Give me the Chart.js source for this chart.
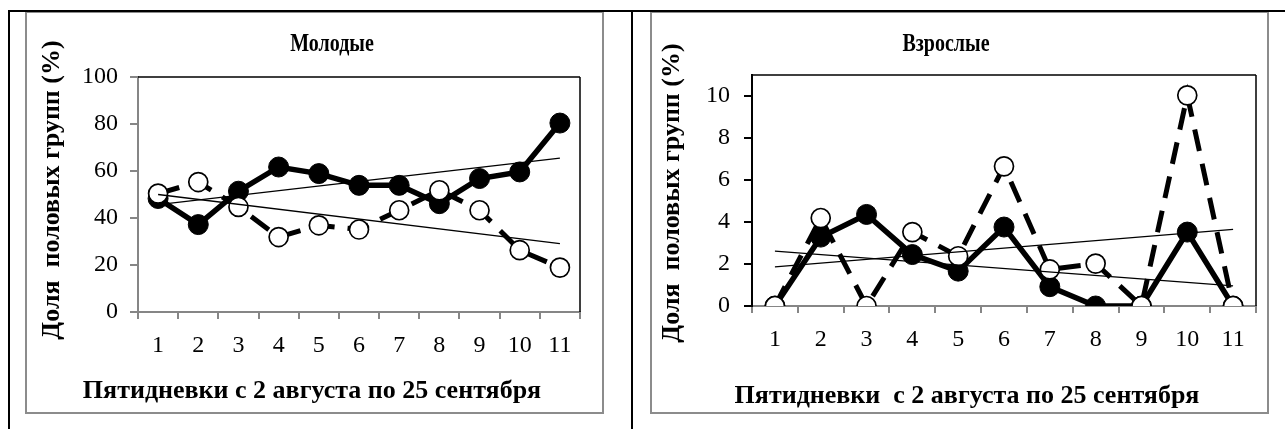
<!DOCTYPE html>
<html><head><meta charset="utf-8">
<script src="https://cdn.jsdelivr.net/npm/chart.js@4.4.1/dist/chart.umd.min.js"></script>
<style>
html,body{margin:0;padding:0;background:#fff;width:1285px;height:429px;overflow:hidden;position:relative}
.bl{position:absolute;background:#000}
.frame{position:absolute;border:2px solid #8c8c8c;box-sizing:border-box}
.holder{position:absolute;top:0}
canvas{display:block}
</style></head><body>
<div class="frame" style="left:25px;top:11px;width:579px;height:403px"></div>
<div class="frame" style="left:650px;top:11px;width:619px;height:403px"></div>
<div class="bl" style="left:8px;top:10px;width:1277px;height:2px"></div>
<div class="bl" style="left:8px;top:10px;width:2px;height:419px"></div>
<div class="bl" style="left:631px;top:10px;width:2px;height:419px"></div>
<div class="holder" style="left:0;width:640px;height:429px"><canvas id="c1" width="640" height="429"></canvas></div>
<div class="holder" style="left:640px;width:645px;height:429px"><canvas id="c2" width="645" height="429"></canvas></div>
<script>
// ---- data ----
const periods = ['1','2','3','4','5','6','7','8','9','10','11'];
const youngFilled = [48.3, 37.2, 51.4, 61.7, 58.9, 53.9, 53.9, 46.1, 56.8, 59.6, 80.4];
const youngOpen   = [50.4, 55.3, 44.7, 31.9, 36.9, 35.1, 43.3, 51.8, 43.3, 26.3, 18.9];
const youngFilledTrend = [45.7, 65.5]; // trend line values at periods 1 and 11
const youngOpenTrend   = [50.0, 29.1];
const adultFilled = [0, 3.28, 4.36, 2.45, 1.66, 3.76, 0.92, 0, 0, 3.52, 0];
const adultOpen   = [0, 4.19, 0, 3.52, 2.37, 6.65, 1.74, 2.02, 0, 10.03, 0];
const adultFilledTrend = [2.61, 0.96];
const adultOpenTrend   = [1.86, 3.65];
const youngTicks = [0, 20, 40, 60, 80, 100];
const adultTicks = [0, 2, 4, 6, 8, 10];
const titleYoung = 'Молодые';
const titleAdult = 'Взрослые';
const yTitle = 'Доля  половых групп (%)';
const xTitleYoung = 'Пятидневки с 2 августа по 25 сентября';
const xTitleAdult = 'Пятидневки  с 2 августа по 25 сентября';

Chart.defaults.font.family = '"Liberation Serif", "Times New Roman", serif';
Chart.defaults.color = '#000';

const AXIS_GREY = '#868686';
const TICK_FONT = {size: 24};
const TITLE_FONT = 'bold 25px "Liberation Serif", "Times New Roman", serif';
const AXIS_TITLE_FONT = 'bold 26px "Liberation Serif", "Times New Roman", serif';

function textPlugin(items) {
  return {
    id: 'texts',
    afterDraw(chart) {
      const ctx = chart.ctx;
      items.forEach(it => {
        ctx.save();
        ctx.font = it.font;
        ctx.fillStyle = '#000';
        ctx.textAlign = 'center';
        ctx.textBaseline = 'middle';
        ctx.translate(it.x, it.y);
        if (it.rotate) ctx.rotate(it.rotate);
        if (it.squeeze) ctx.scale(it.squeeze, 1);
        ctx.fillText(it.text, 0, 0);
        ctx.restore();
      });
    }
  };
}
function borderPlugin(sides) {
  return {
    id: 'plotBorder',
    beforeDatasetsDraw(chart) {
      const {ctx, chartArea: a} = chart;
      ctx.save();
      ctx.strokeStyle = '#000';
      ctx.lineWidth = 1.5;
      ctx.beginPath();
      if (sides.includes('top')) { ctx.moveTo(a.left, a.top); ctx.lineTo(a.right, a.top); }
      if (sides.includes('right')) { ctx.moveTo(a.right, a.top); ctx.lineTo(a.right, a.bottom); }
      if (sides.includes('left')) { ctx.moveTo(a.left, a.top); ctx.lineTo(a.left, a.bottom); }
      ctx.stroke();
      ctx.restore();
    }
  };
}
function trend(vals) {
  return [{x: periods[0], y: vals[0]}, {x: periods[periods.length - 1], y: vals[1]}];
}
function datasets(openVals, filledVals, openTrend, filledTrend) {
  return [
    {data: trend(openTrend), borderColor: '#000', borderWidth: 1.3, pointRadius: 0, fill: false},
    {data: trend(filledTrend), borderColor: '#000', borderWidth: 1.3, pointRadius: 0, fill: false},
    {data: openVals, borderColor: '#000', borderWidth: 5, borderDash: [22, 13],
     pointRadius: 9.5, pointBackgroundColor: '#fff', pointBorderColor: '#000', pointBorderWidth: 1.7, fill: false},
    {data: filledVals, borderColor: '#000', borderWidth: 5.5,
     pointRadius: 10, pointBackgroundColor: '#000', pointBorderColor: '#000', pointBorderWidth: 1, fill: false}
  ];
}
function makeChart(id, cfg) {
  return new Chart(document.getElementById(id), {
    type: 'line',
    data: {labels: periods, datasets: datasets(cfg.open, cfg.filled, cfg.openTrend, cfg.filledTrend)},
    options: {
      responsive: false, animation: false,
      layout: {padding: cfg.padding},
      plugins: {legend: {display: false}, tooltip: {enabled: false}, title: {display: false}},
      elements: {line: {tension: 0}},
      scales: {
        x: {
          type: 'category', offset: true,
          ticks: {font: TICK_FONT, color: '#000', padding: 12, maxRotation: 0, autoSkip: false},
          grid: {offset: true, drawOnChartArea: false, tickLength: 7, color: AXIS_GREY, lineWidth: 2},
          border: {display: true, color: AXIS_GREY, width: 2},
          afterFit: s => { s.height = 40; }
        },
        y: {
          min: 0, max: cfg.max,
          afterBuildTicks: s => { s.ticks = cfg.ticks.map(v => ({value: v})); },
          ticks: {font: TICK_FONT, color: '#000', padding: cfg.yPad},
          grid: {drawOnChartArea: false, tickLength: 8, color: cfg.yColor, lineWidth: 2},
          border: {display: true, color: cfg.yColor, width: 2},
          afterFit: s => { s.width = 60; }
        }
      }
    },
    plugins: [borderPlugin(cfg.sides), textPlugin(cfg.texts)]
  });
}

makeChart('c1', {
  open: youngOpen, filled: youngFilled, openTrend: youngOpenTrend, filledTrend: youngFilledTrend,
  max: 100, ticks: youngTicks, yColor: AXIS_GREY, yPad: 12, sides: ['top', 'right'],
  padding: {left: 78, right: 60, top: 77, bottom: 77},
  texts: [
    {text: titleYoung, x: 332, y: 45, font: TITLE_FONT, squeeze: 0.8},
    {text: yTitle, x: 52, y: 190, rotate: -Math.PI / 2, font: AXIS_TITLE_FONT},
    {text: xTitleYoung, x: 312, y: 391, font: AXIS_TITLE_FONT}
  ]
});
makeChart('c2', {
  open: adultOpen, filled: adultFilled, openTrend: adultOpenTrend, filledTrend: adultFilledTrend,
  max: 11, ticks: adultTicks, yColor: '#000', yPad: 14, sides: ['top', 'right', 'left'],
  padding: {left: 52, right: 29, top: 75, bottom: 83},
  texts: [
    {text: titleAdult, x: 306, y: 45, font: TITLE_FONT, squeeze: 0.8},
    {text: yTitle, x: 32, y: 193, rotate: -Math.PI / 2, font: AXIS_TITLE_FONT},
    {text: xTitleAdult, x: 327, y: 396, font: AXIS_TITLE_FONT}
  ]
});
</script>
</body></html>
